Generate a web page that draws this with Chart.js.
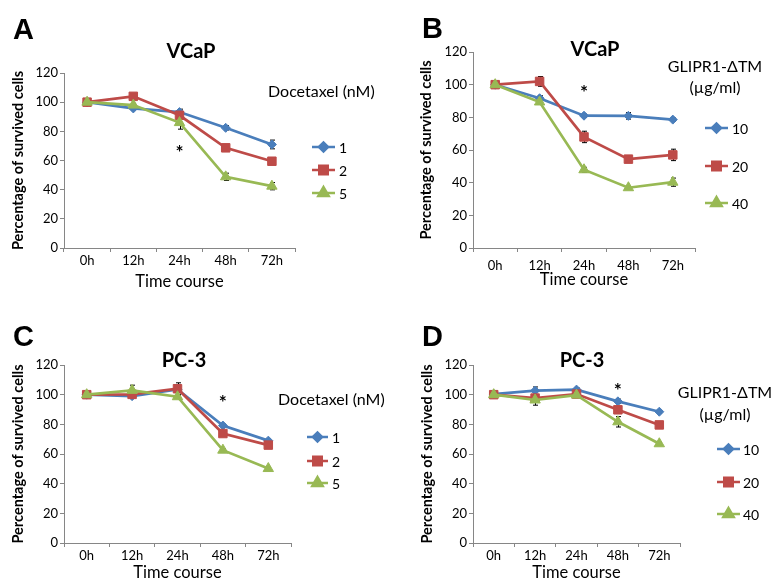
<!DOCTYPE html>
<html>
<head>
<meta charset="utf-8">
<script src="https://cdn.jsdelivr.net/npm/chart.js@4.4.0/dist/chart.umd.min.js"></script>
<style>
  body { margin: 0; background: #fff; }
  #fig { position: relative; width: 771px; height: 581px; overflow: hidden; background: #fff; }
  canvas { position: absolute; }
</style>
</head>
<body>
<div id="fig">
  <canvas id="panelA" width="390" height="290" style="left:0;top:0"></canvas>
  <canvas id="panelB" width="381" height="290" style="left:390px;top:0"></canvas>
  <canvas id="panelC" width="390" height="291" style="left:0;top:290px"></canvas>
  <canvas id="panelD" width="381" height="291" style="left:390px;top:290px"></canvas>
</div>
<script>
// categories et graduations
const hours = ['0h', '12h', '24h', '48h', '72h'];
const yTicks = [0, 20, 40, 60, 80, 100, 120];

// A : VCaP, docetaxel (nM)
const vcapDoc1 = [100, 95.7, 93.2, 82.4, 71];
const vcapDoc2 = [100, 104, 91, 68.7, 59.5];
const vcapDoc5 = [100, 98, 86, 48.8, 42.4];
const vcapDoc1Err = [0, 1, 2, 1.5, 3];
const vcapDoc2Err = [0, 1.5, 1.5, 1.5, 1.5];
const vcapDoc5Err = [0, 1, 4.5, 2.5, 2.5];

// B : VCaP, GLIPR1-ΔTM (µg/ml)
const vcapGl10 = [100, 91.7, 81, 80.9, 78.6];
const vcapGl20 = [100, 102, 68, 54.4, 57];
const vcapGl40 = [100, 89.4, 47.9, 36.9, 40.3];
const vcapGl10Err = [0, 1.5, 1, 2, 1];
const vcapGl20Err = [1, 3, 3.5, 1, 3.5];
const vcapGl40Err = [0, 1.5, 1.5, 1, 2.5];

// C : PC-3, docetaxel (nM)
const pc3Doc1 = [100, 99, 103.6, 79.2, 69];
const pc3Doc2 = [100, 100.2, 104, 73.8, 66];
const pc3Doc5 = [100, 102.9, 98.6, 62.6, 50.2];
const pc3Doc1Err = [0, 1, 1, 1, 1];
const pc3Doc2Err = [1, 1, 4, 1, 1];
const pc3Doc5Err = [0, 3.5, 1, 1, 1];

// D : PC-3, GLIPR1-ΔTM (µg/ml)
const pc3Gl10 = [100.4, 102.7, 103.4, 95.5, 88.5];
const pc3Gl20 = [100, 97.7, 100.4, 89.8, 79.6];
const pc3Gl40 = [100, 96.4, 99.7, 81.7, 66.9];
const pc3Gl10Err = [0, 2.5, 1, 1.5, 1];
const pc3Gl20Err = [0, 2, 1, 1, 1];
const pc3Gl40Err = [0, 3.5, 1, 3.5, 1];

// astérisques (catégorie, valeur)
const starA = ['24h', 68];
const starB = ['24h', 97.6];
const starC = ['48h', 97.5];
const starD = ['48h', 105.4];

const docLabels = ['1', '2', '5'];
const glLabels = ['10', '20', '40'];

const FONT = 'Lato, "Open Sans", sans-serif';
const BLUE = '#4A7EBB', RED = '#BE4B48', GREEN = '#98B954';
const styles = [
  { color: BLUE, pointStyle: 'rectRot', radius: 4.5, order: 3 },
  { color: RED, pointStyle: 'rect', radius: 6, order: 2 },
  { color: GREEN, pointStyle: 'triangle', radius: 6, order: 1 }
];

// barres d'erreur + texte (lettre, titre, légende, astérisque)
const decor = {
  id: 'decor',
  beforeDatasetsDraw(chart) {
    const ctx = chart.ctx, y = chart.scales.y;
    ctx.save();
    ctx.strokeStyle = '#000';
    ctx.lineWidth = 1;
    chart.data.datasets.forEach((ds, i) => {
      const meta = chart.getDatasetMeta(i);
      ds.errors.forEach((e, j) => {
        if (!e) return;
        const px = Math.round(meta.data[j].x) + 0.5;
        const top = y.getPixelForValue(ds.data[j] + e);
        const bot = y.getPixelForValue(ds.data[j] - e);
        ctx.beginPath();
        ctx.moveTo(px, top); ctx.lineTo(px, bot);
        ctx.moveTo(px - 2.5, top); ctx.lineTo(px + 2.5, top);
        ctx.moveTo(px - 2.5, bot); ctx.lineTo(px + 2.5, bot);
        ctx.stroke();
      });
    });
    ctx.restore();
  },
  afterDraw(chart, args, o) {
    const ctx = chart.ctx;
    ctx.save();
    ctx.fillStyle = '#000';
    // lettre du panneau
    ctx.font = 'bold 29px "Liberation Sans", Arial, sans-serif';
    ctx.textAlign = 'left';
    ctx.textBaseline = 'alphabetic';
    ctx.fillText(o.letter, o.letterX, o.letterY);
    // titre
    ctx.font = 'bold 20px ' + FONT;
    ctx.textAlign = 'center';
    ctx.textBaseline = 'middle';
    ctx.fillText(o.title, o.titleX, o.titleY);
    // titre de légende
    ctx.font = '16px ' + FONT;
    o.legendTitle.forEach(t => {
      ctx.textAlign = t.align;
      ctx.fillText(t.text, t.x, t.y);
    });
    // éléments de légende
    ctx.font = '14px ' + FONT;
    ctx.textAlign = 'left';
    chart.data.datasets.forEach((ds, i) => {
      const ly = o.legendYs[i];
      ctx.strokeStyle = ds.borderColor;
      ctx.lineWidth = 2.5;
      ctx.beginPath();
      ctx.moveTo(o.legendX1, ly); ctx.lineTo(o.legendX2, ly);
      ctx.stroke();
      ctx.fillStyle = ds.backgroundColor;
      Chart.helpers.drawPoint(ctx, { pointStyle: ds.pointStyle, radius: ds.pointRadius, borderWidth: 1 },
        (o.legendX1 + o.legendX2) / 2, ly);
      ctx.fillStyle = '#000';
      ctx.fillText(ds.label, o.legendTextX, ly + 1);
    });
    // astérisque
    ctx.font = 'bold 19px ' + FONT;
    ctx.textAlign = 'center';
    ctx.fillText('*', chart.scales.x.getPixelForValue(hours.indexOf(o.star[0])),
      chart.scales.y.getPixelForValue(o.star[1]) + 4);
    ctx.restore();
  }
};

function makeDatasets(labels, series, errs) {
  return series.map((data, i) => ({
    label: labels[i],
    data: data,
    errors: errs[i],
    borderColor: styles[i].color,
    backgroundColor: styles[i].color,
    pointStyle: styles[i].pointStyle,
    pointRadius: styles[i].radius,
    pointBorderWidth: 1,
    borderWidth: 2.7,
    tension: 0,
    order: styles[i].order
  }));
}

function makeChart(id, datasets, g, deco) {
  new Chart(document.getElementById(id), {
    type: 'line',
    data: { labels: hours, datasets: datasets },
    plugins: [decor],
    options: {
      responsive: false,
      devicePixelRatio: 1,
      animation: false,
      layout: { padding: { left: 0, right: g.right, top: g.top, bottom: 0 } },
      plugins: { legend: { display: false }, tooltip: { enabled: false }, decor: deco },
      scales: {
        x: {
          offset: true,
          grid: { display: true, drawOnChartArea: false, offset: true, tickLength: 4, color: '#868686' },
          border: { color: '#868686' },
          ticks: { color: '#000', font: { family: FONT, size: 13 }, padding: g.xPad, maxRotation: 0 },
          title: { display: true, text: 'Time course', color: '#000',
            font: { family: FONT, size: 16.5, lineHeight: 1 }, padding: { top: 0, bottom: g.xTitlePad } },
          afterFit: s => { s.height = g.xH; }
        },
        y: {
          min: 0, max: 120,
          afterBuildTicks: s => { s.ticks = yTicks.map(v => ({ value: v })); },
          grid: { display: true, drawOnChartArea: false, tickLength: 4, color: '#868686' },
          border: { color: '#868686' },
          ticks: { color: '#000', font: { family: FONT, size: 13 }, padding: 2 },
          title: { display: true, text: 'Percentage of survived cells', color: '#000',
            font: { family: FONT, size: 14.5, weight: 'bold', lineHeight: 1 }, padding: { top: g.yTitlePad, bottom: 0 } },
          afterFit: s => { s.width = g.yW; }
        }
      }
    }
  });
}

makeChart('panelA',
  makeDatasets(docLabels, [vcapDoc1, vcapDoc2, vcapDoc5], [vcapDoc1Err, vcapDoc2Err, vcapDoc5Err]),
  { right: 95, top: 73, xH: 42, yW: 64, xPad: 1, xTitlePad: 0.5, yTitlePad: 11.5 },
  { letter: 'A', letterX: 13, letterY: 39, title: 'VCaP', titleX: 191, titleY: 52,
    legendTitle: [{ text: 'Docetaxel (nM)', x: 268, y: 92, align: 'left' }],
    legendX1: 312, legendX2: 335, legendTextX: 339, legendYs: [147, 170, 193], star: starA });

makeChart('panelB',
  makeDatasets(glLabels, [vcapGl10, vcapGl20, vcapGl40], [vcapGl10Err, vcapGl20Err, vcapGl40Err]),
  { right: 76, top: 52, xH: 42, yW: 83, xPad: 6, xTitlePad: 2, yTitlePad: 29.5 },
  { letter: 'B', letterX: 32, letterY: 38, title: 'VCaP', titleX: 205, titleY: 50,
    legendTitle: [{ text: 'GLIPR1-ΔTM', x: 325, y: 67, align: 'center' },
                  { text: '(µg/ml)', x: 325, y: 88, align: 'center' }],
    legendX1: 315, legendX2: 338, legendTextX: 342, legendYs: [128, 166, 203], star: starB });

makeChart('panelC',
  makeDatasets(docLabels, [pc3Doc1, pc3Doc2, pc3Doc5], [pc3Doc1Err, pc3Doc2Err, pc3Doc5Err]),
  { right: 99, top: 75, xH: 38, yW: 64, xPad: 1, xTitlePad: 0, yTitlePad: 11.5 },
  { letter: 'C', letterX: 13, letterY: 56, title: 'PC-3', titleX: 184, titleY: 71,
    legendTitle: [{ text: 'Docetaxel (nM)', x: 278, y: 110, align: 'left' }],
    legendX1: 307, legendX2: 328, legendTextX: 332, legendYs: [147, 171, 193], star: starC });

makeChart('panelD',
  makeDatasets(glLabels, [pc3Gl10, pc3Gl20, pc3Gl40], [pc3Gl10Err, pc3Gl20Err, pc3Gl40Err]),
  { right: 91, top: 75, xH: 38, yW: 83, xPad: 1, xTitlePad: 0, yTitlePad: 30 },
  { letter: 'D', letterX: 32, letterY: 56, title: 'PC-3', titleX: 192, titleY: 71,
    legendTitle: [{ text: 'GLIPR1-ΔTM', x: 335, y: 103, align: 'center' },
                  { text: '(µg/ml)', x: 335, y: 125, align: 'center' }],
    legendX1: 327, legendX2: 350, legendTextX: 353, legendYs: [159, 192, 224], star: starD });
</script>
</body>
</html>
